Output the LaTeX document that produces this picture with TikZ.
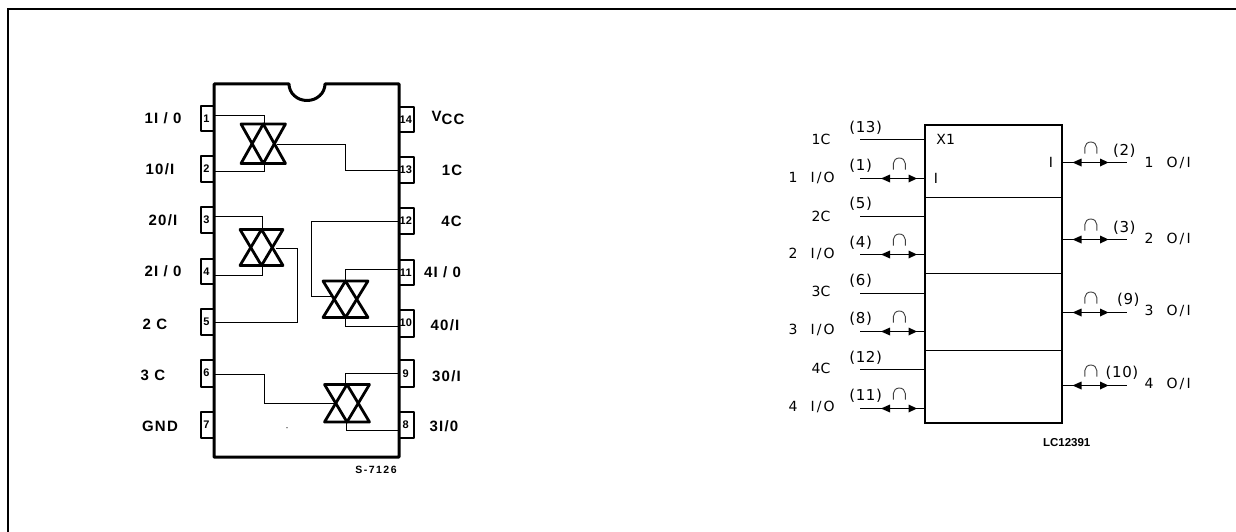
\documentclass[tikz,border=0pt]{standalone}
\usepackage{fontspec}
\setmainfont{Liberation Sans}
\newfontfamily\pinfont[LetterSpace=8]{Liberation Sans}
\newfontfamily\codefont[LetterSpace=14]{Liberation Sans}
\newfontfamily\symfont{DejaVu Sans}
\newfontfamily\parfont[LetterSpace=4]{DejaVu Sans}
\newfontfamily\widefont[LetterSpace=15]{DejaVu Sans}
\tikzset{
  frame/.style={line width=2pt,black},
  body/.style={line width=3pt,black,line join=round},
  pinbox/.style={line width=2pt,black,line join=round},
  wire/.style={line width=1.4pt,black},
  swt/.style={line width=2.8pt,black,line join=round},
  lbl/.style={inner sep=0pt,font=\pinfont\bfseries\fontsize{15}{15}\selectfont},
  pnum/.style={inner sep=0pt,font=\bfseries\fontsize{11}{11}\selectfont},
  sym/.style={inner sep=0pt,font=\symfont\fontsize{14}{14}\selectfont},
  par/.style={inner sep=0pt,font=\parfont\fontsize{15}{15}\selectfont},
  box/.style={line width=2pt,black},
  sep/.style={line width=1.2pt,black},
  sig/.style={line width=1.2pt,black},
  tipfill/.style={fill=black,draw=none},
  notcap/.style={line width=.9pt,black!75},
}
\newcommand{\iolab}[2]{#1\hspace{13pt}{\widefont\fontsize{14}{14}\selectfont #2}}
\newcommand{\swtri}[4]{% x left, x right, y top, y bottom
  \draw[swt] (#1,#3) -- (#2,#3) -- ({(#1+#2)/2},#4) -- cycle;
  \draw[swt] (#1,#4) -- (#2,#4) -- ({(#1+#2)/2},#3) -- cycle;
}
\newcommand{\lpin}[3]{% number, top, bottom
  \draw[pinbox] (214,#2) -- (200.5,#2) -- (200.5,#3) -- (214,#3);
  \node[pnum] (pl#1) at (206.5,{(#2+#3)/2}) {#1};
}
\newcommand{\rpin}[3]{%
  \draw[pinbox] (399,#2) -- (413.5,#2) -- (413.5,#3) -- (399,#3);
  \node[pnum] (pr#1) at (405.8,{(#2+#3)/2}) {#1};
}
\newcommand{\biarrow}[2]{% x of left tip, y
  \fill[tipfill] (#1,#2) -- ({#1+9},{#2-4}) -- ({#1+9},{#2+4}) -- cycle;
  \fill[tipfill] ({#1+36},#2) -- ({#1+27.5},{#2-4}) -- ({#1+27.5},{#2+4}) -- cycle;
  \draw[notcap] ({#1+12.3},{#2-9}) -- ({#1+12.3},{#2-15}) arc (180:360:6 and 5.5) -- ({#1+24.3},{#2-9});
}
\begin{document}
\begin{tikzpicture}[x=1pt,y=-1pt]
\useasboundingbox (0,0) rectangle (1236,532);
\fill[white] (0,0) rectangle (1236,532);
% outer frame
\draw[frame] (7.5,532) -- (7.5,9.5) -- (1236,9.5);
% package
\draw[body] (214,84) -- (289,84) arc (180:0:18 and 16.5) -- (399,84) -- (399,457) -- (214,457) -- cycle;
\lpin{1}{106}{131.5}\lpin{2}{156}{181.5}\lpin{3}{207}{232.5}\lpin{4}{259}{284}\lpin{5}{309}{335}\lpin{6}{359.5}{386.5}\lpin{7}{411.5}{437.5}
\rpin{14}{107}{132.5}\rpin{13}{156.5}{183}\rpin{12}{208}{234}\rpin{11}{259.5}{285}\rpin{10}{309.5}{336.5}\rpin{9}{360}{387}\rpin{8}{412}{438}
% wires
\draw[wire] (214,115.5) -- (264.5,115.5) -- (264.5,124);
\draw[wire] (264.5,163) -- (264.5,171.5) -- (214,171.5);
\draw[wire] (277,144.5) -- (345.5,144.5) -- (345.5,170.5) -- (399,170.5);
\draw[wire] (214,216.5) -- (262.5,216.5) -- (262.5,229);
\draw[wire] (262.5,265.5) -- (262.5,275.5) -- (214,275.5);
\draw[wire] (275.5,248.5) -- (297.5,248.5) -- (297.5,322.5) -- (214,322.5);
\draw[wire] (399,269.5) -- (345.5,269.5) -- (345.5,281);
\draw[wire] (345.5,317.5) -- (345.5,326.5) -- (399,326.5);
\draw[wire] (399,221.5) -- (311.5,221.5) -- (311.5,296.5) -- (333,296.5);
\draw[wire] (399,373.5) -- (345.5,373.5) -- (345.5,384);
\draw[wire] (346.5,422) -- (346.5,430.5) -- (399,430.5);
\draw[wire] (214,374.5) -- (264.5,374.5) -- (264.5,403.5) -- (335,403.5);
% switches
\swtri{241}{285.5}{124}{163.5}
\swtri{240}{283}{229.5}{265.5}
\swtri{323}{368}{281}{317.5}
\swtri{324.5}{369.5}{384.5}{422}
\fill (287,427.7) circle (.6);
% pin labels
\node[lbl] (a1) at (163,118) {1I / 0};
\node[lbl] (a2) at (160,169.5) {10/I};
\node[lbl] (a3) at (163,220) {20/I};
\node[lbl] (a4) at (163,271.5) {2I / 0};
\node[lbl] (a5) at (155,324) {2 C};
\node[lbl] (a6) at (153,375) {3 C};
\node[lbl] (a7) at (160,426) {GND};
\node[lbl] (b14) at (448,118) {V\raisebox{-2.5pt}{CC}};
\node[lbl] (b13) at (452,170) {1C};
\node[lbl] (b12) at (451.5,221.5) {4C};
\node[lbl] (b11) at (442.5,272.5) {4I / 0};
\node[lbl] (b10) at (445,325) {40/I};
\node[lbl] (b9) at (446.5,376) {30/I};
\node[lbl] (b8) at (444,426.5) {3I/0};
\node[inner sep=0pt,font=\codefont\bfseries\fontsize{10.5}{10.5}\selectfont] (code1) at (376,470) {S-7126};
% logic symbol
\draw[box] (925,125) rectangle (1062,423);
\coordinate (L1) at (925,197.5); \coordinate (R1) at (1062,197.5);
\coordinate (L2) at (925,273.5); \coordinate (R2) at (1062,273.5);
\coordinate (L3) at (925,350.5); \coordinate (R3) at (1062,350.5);
\draw[sep] (L1) -- (R1); \draw[sep] (L2) -- (R2); \draw[sep] (L3) -- (R3);
\foreach \y in {139.5,178.5,216.5,254.5,293.5,331.5,369.5,408.5}{\draw[sig] (860,\y) -- (925,\y);}
\foreach \y in {162.5,239.5,312.5,385.5}{\draw[sig] (1062,\y) -- (1127.3,\y);}
\foreach \y in {178.5,254.5,331.5,408.5}{\biarrow{881}{\y}}
\foreach \y in {162.5,239.5,312.5,385.5}{\biarrow{1072.5}{\y}}
\node[par] (n13) at (865.7,127.3) {(13)};
\node[par] (n1) at (860.7,166) {(1)};
\node[par] (n5) at (860.7,204) {(5)};
\node[par] (n4) at (860.7,242.7) {(4)};
\node[par] (n6) at (860.7,281) {(6)};
\node[par] (n8) at (860.7,319) {(8)};
\node[par] (n12) at (865.7,357.7) {(12)};
\node[par] (n11) at (865.7,396) {(11)};
\node[par] (n2) at (1124.3,150.7) {(2)};
\node[par] (n3) at (1124.3,227.3) {(3)};
\node[par] (n9) at (1128.3,300) {(9)};
\node[par] (n10) at (1122,372.3) {(10)};
\node[sym] (l1) at (821,139.7) {1C};
\node[sym] (l2) at (811.7,178) {\iolab{1}{I/O}};
\node[sym] (l3) at (821,216) {2C};
\node[sym] (l4) at (811.7,254) {\iolab{2}{I/O}};
\node[sym] (l5) at (821,291.7) {3C};
\node[sym] (l6) at (811.7,330) {\iolab{3}{I/O}};
\node[sym] (l7) at (821,368) {4C};
\node[sym] (l8) at (811.7,406.7) {\iolab{4}{I/O}};
\node[sym] (x1) at (945.7,139.3) {X1};
\node[sym] (i1) at (936,178.3) {I};
\node[sym] (i2) at (1051,162.7) {I};
\node[sym] (r1) at (1167.7,162.7) {\iolab{1}{O/I}};
\node[sym] (r2) at (1167.7,239) {\iolab{2}{O/I}};
\node[sym] (r3) at (1167.7,310.7) {\iolab{3}{O/I}};
\node[sym] (r4) at (1167.7,384) {\iolab{4}{O/I}};
\node[inner sep=0pt,font=\bfseries\fontsize{11.5}{11.5}\selectfont] (code2) at (1066.7,442.7) {LC12391};
\end{tikzpicture}
\end{document}
